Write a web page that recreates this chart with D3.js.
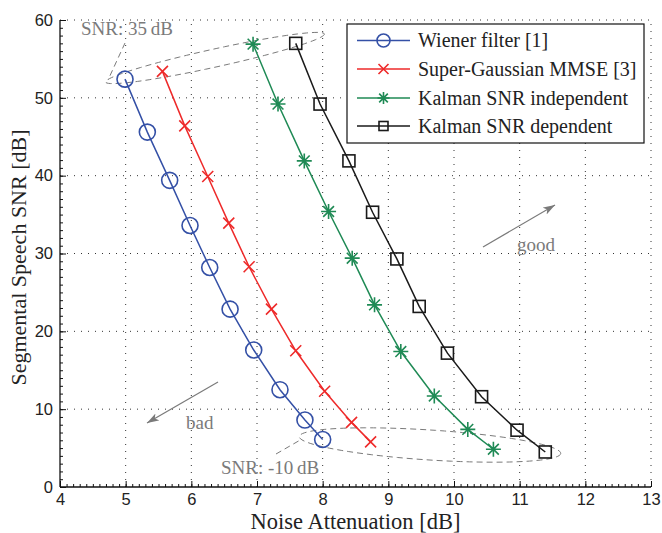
<!DOCTYPE html>
<html>
<head>
<meta charset="utf-8">
<script src="https://cdn.jsdelivr.net/npm/d3@7"></script>
<style>
  body { margin: 0; background: #fff; }
  svg { display: block; }
  .tick-label { font-family: "Liberation Sans", Arial, sans-serif; font-size: 16.5px; fill: #222; }
  .serif { font-family: "Liberation Serif", "Times New Roman", serif; }
</style>
</head>
<body>
<div id="chart"></div>
<script>
'use strict';

// series values: [noise attenuation dB, segmental SNR dB]
var wienerData = [[4.99, 52.4], [5.33, 45.6], [5.67, 39.4], [5.98, 33.6], [6.28, 28.2],
                  [6.59, 22.85], [6.95, 17.6], [7.35, 12.5], [7.73, 8.6], [8.0, 6.1]];
var superGaussData = [[5.56, 53.4], [5.90, 46.4], [6.25, 39.9], [6.57, 33.9], [6.88, 28.3],
                      [7.22, 22.85], [7.59, 17.5], [8.03, 12.3], [8.44, 8.3], [8.73, 5.8]];
var kalmanIndepData = [[6.94, 56.9], [7.32, 49.2], [7.72, 41.9], [8.09, 35.4], [8.45, 29.4],
                       [8.79, 23.4], [9.19, 17.4], [9.70, 11.7], [10.21, 7.4], [10.60, 4.85]];
var kalmanDepData = [[7.59, 57.0], [7.96, 49.2], [8.40, 41.9], [8.76, 35.3], [9.13, 29.3],
                     [9.47, 23.2], [9.90, 17.2], [10.42, 11.6], [10.96, 7.3], [11.39, 4.5]];

var seriesNames = ['Wiener filter [1]', 'Super-Gaussian MMSE [3]', 'Kalman SNR independent', 'Kalman SNR dependent'];
var seriesColors = ['#3450a6', '#ee2a2a', '#1f8a55', '#1a1a1a'];
var seriesMarkers = ['circle', 'cross', 'star', 'square'];

var xTicks = [4, 5, 6, 7, 8, 9, 10, 11, 12, 13];
var yTicks = [0, 10, 20, 30, 40, 50, 60];

var width = 662, height = 533;
var margin = {left: 60, right: 11, top: 20, bottom: 46};

var svg = d3.select('#chart').append('svg')
    .attr('width', width)
    .attr('height', height);

var x = d3.scaleLinear().domain([4, 13]).range([margin.left, width - margin.right]);
var y = d3.scaleLinear().domain([0, 60]).range([height - margin.bottom, margin.top]);

var gridColor = '#333';

// dotted grid (top and right edges are grid lines too)
svg.append('g').selectAll('line.vgrid').data(xTicks.slice(1)).enter()
    .append('line')
        .attr('x1', function(d) { return x(d); })
        .attr('x2', function(d) { return x(d); })
        .attr('y1', y(0))
        .attr('y2', y(60))
        .style('stroke', gridColor)
        .style('stroke-width', 1)
        .style('stroke-dasharray', '1,6');
svg.append('g').selectAll('line.hgrid').data(yTicks.slice(1)).enter()
    .append('line')
        .attr('x1', x(4))
        .attr('x2', x(13))
        .attr('y1', function(d) { return y(d); })
        .attr('y2', function(d) { return y(d); })
        .style('stroke', gridColor)
        .style('stroke-width', 1)
        .style('stroke-dasharray', '1,6');

// axes, ticks pointing inward, with minor ticks
var xAxis = d3.axisBottom(x).tickValues(xTicks).tickSize(-6).tickFormat(d3.format('d'));
var yAxis = d3.axisLeft(y).tickValues(yTicks).tickSize(-6).tickFormat(d3.format('d'));
var xMinor = d3.axisBottom(x).tickValues(d3.range(40, 131).map(function(d) { return d / 10; })).tickSize(-3).tickFormat('');
var yMinor = d3.axisLeft(y).tickValues(d3.range(0, 61)).tickSize(-3).tickFormat('');

function styleAxis(g) {
    g.select('.domain').style('stroke', '#111').style('stroke-width', 1.3);
    g.selectAll('.tick line').style('stroke', '#111').style('stroke-width', 1);
}

svg.append('g').attr('transform', 'translate(0,' + y(0) + ')').call(xMinor).call(styleAxis)
    .select('.domain').remove();
svg.append('g').attr('transform', 'translate(' + x(4) + ',0)').call(yMinor).call(styleAxis)
    .select('.domain').remove();

var gx = svg.append('g').attr('transform', 'translate(0,' + y(0) + ')').call(xAxis).call(styleAxis);
gx.select('.domain').attr('d', 'M' + x(4) + ',0H' + x(13));
gx.selectAll('.tick text').attr('class', 'tick-label').attr('y', 6).attr('dy', '0.71em');

var gy = svg.append('g').attr('transform', 'translate(' + x(4) + ',0)').call(yAxis).call(styleAxis);
gy.select('.domain').attr('d', 'M0,' + y(0) + 'V' + y(60));
gy.selectAll('.tick text').attr('class', 'tick-label').attr('x', -7);

// axis labels
svg.append('text')
    .attr('class', 'serif')
    .attr('x', (x(4) + x(13)) / 2)
    .attr('y', 529)
    .attr('text-anchor', 'middle')
    .style('font-size', '22.5px')
    .style('fill', '#222')
    .text('Noise Attenuation [dB]');
svg.append('text')
    .attr('class', 'serif')
    .attr('transform', 'translate(26,' + ((y(0) + y(60)) / 2 + 4) + ') rotate(-90)')
    .attr('text-anchor', 'middle')
    .style('font-size', '22px')
    .style('fill', '#222')
    .text('Segmental Speech SNR [dB]');

// annotations
var annColor = '#7a7a7a';
function ellipsePath(cx, cy, rx, ry, angleDeg) {
    var pts = d3.range(0, 361, 4).map(function(a) {
        var t = a * Math.PI / 180, r = angleDeg * Math.PI / 180;
        var ex = rx * Math.cos(t), ey = ry * Math.sin(t);
        return [cx + ex * Math.cos(r) - ey * Math.sin(r), cy + ex * Math.sin(r) + ey * Math.cos(r)];
    });
    return d3.line()(pts) + 'Z';
}
var ann = svg.append('g').style('fill', 'none').style('stroke', annColor)
    .style('stroke-width', 1).style('stroke-dasharray', '6,4');
ann.append('path').attr('d', ellipsePath(215, 58, 112, 9, -12.4));
ann.append('line').attr('x1', 125).attr('y1', 43).attr('x2', 108).attr('y2', 80);
ann.append('path').attr('d', ellipsePath(430, 445, 131, 15, 3.7));
ann.append('line').attr('x1', 276).attr('y1', 454).attr('x2', 302).attr('y2', 439);

svg.append('text').attr('class', 'serif')
    .attr('x', 81).attr('y', 35)
    .style('font-size', '19px').style('fill', annColor)
    .text('SNR: 35\u2009dB');
svg.append('text').attr('class', 'serif')
    .attr('x', 221).attr('y', 474)
    .style('font-size', '19px').style('fill', annColor)
    .text('SNR: -10\u2009dB');

svg.append('defs').append('marker')
    .attr('id', 'arrowHead')
    .attr('viewBox', '0 0 12 8')
    .attr('refX', 12).attr('refY', 4)
    .attr('markerWidth', 12).attr('markerHeight', 8)
    .attr('markerUnits', 'userSpaceOnUse')
    .attr('orient', 'auto')
    .append('path').attr('d', 'M0,0L12,4L0,8L3,4Z').style('fill', annColor);

svg.append('line').attr('x1', 483).attr('y1', 247).attr('x2', 555).attr('y2', 205)
    .style('stroke', annColor).style('stroke-width', 1.2).attr('marker-end', 'url(#arrowHead)');
svg.append('line').attr('x1', 218).attr('y1', 382).attr('x2', 147).attr('y2', 423)
    .style('stroke', annColor).style('stroke-width', 1.2).attr('marker-end', 'url(#arrowHead)');
svg.append('text').attr('class', 'serif')
    .attr('x', 517).attr('y', 251)
    .style('font-size', '19px').style('fill', annColor).text('good');
svg.append('text').attr('class', 'serif')
    .attr('x', 186).attr('y', 429)
    .style('font-size', '19px').style('fill', annColor).text('bad');

// markers
function drawMarker(g, type, color, size) {
    var s = size;
    if (type === 'circle') {
        g.append('circle').attr('r', s).style('fill', 'none').style('stroke', color).style('stroke-width', 1.6);
    } else if (type === 'square') {
        g.append('rect').attr('x', -s).attr('y', -s).attr('width', 2 * s).attr('height', 2 * s)
            .style('fill', 'none').style('stroke', color).style('stroke-width', 1.6);
    } else if (type === 'cross') {
        g.append('path').attr('d', 'M' + (-s) + ',' + (-s) + 'L' + s + ',' + s + 'M' + (-s) + ',' + s + 'L' + s + ',' + (-s))
            .style('stroke', color).style('stroke-width', 1.6);
    } else if (type === 'star') {
        var d = 'M' + (-s) + ',0H' + s + 'M0,' + (-s) + 'V' + s;
        var k = s * 0.72;
        d += 'M' + (-k) + ',' + (-k) + 'L' + k + ',' + k + 'M' + (-k) + ',' + k + 'L' + k + ',' + (-k);
        g.append('path').attr('d', d).style('stroke', color).style('stroke-width', 1.6);
    }
}

var allSeries = [wienerData, superGaussData, kalmanIndepData, kalmanDepData];
var markerSizes = [8, 5.5, 7.5, 6];
var line = d3.line().x(function(d) { return x(d[0]); }).y(function(d) { return y(d[1]); });

allSeries.forEach(function(data, i) {
    var g = svg.append('g');
    g.append('path').datum(data).attr('d', line)
        .style('fill', 'none').style('stroke', seriesColors[i]).style('stroke-width', 1.5);
    g.selectAll('g.mk').data(data).enter()
        .append('g')
            .attr('transform', function(d) { return 'translate(' + x(d[0]) + ',' + y(d[1]) + ')'; })
            .each(function() { drawMarker(d3.select(this), seriesMarkers[i], seriesColors[i], markerSizes[i]); });
});

// legend
var lg = svg.append('g').attr('transform', 'translate(347,24)');
lg.append('rect').attr('width', 297).attr('height', 119)
    .style('fill', '#fff').style('stroke', '#111').style('stroke-width', 1.2);
var rowY = [16.5, 45, 74, 102];
var legendMarkerSizes = [6.5, 5, 6, 4.5];
seriesNames.forEach(function(name, i) {
    var row = lg.append('g').attr('transform', 'translate(0,' + rowY[i] + ')');
    row.append('line').attr('x1', 10).attr('x2', 63).attr('y1', 0).attr('y2', 0)
        .style('stroke', seriesColors[i]).style('stroke-width', 1.5);
    var m = row.append('g').attr('transform', 'translate(36.5,0)');
    drawMarker(m, seriesMarkers[i], seriesColors[i], legendMarkerSizes[i]);
    row.append('text').attr('class', 'serif')
        .attr('x', 71).attr('y', 6.5)
        .style('font-size', '20px').style('fill', '#222')
        .text(name);
});
</script>
</body>
</html>
